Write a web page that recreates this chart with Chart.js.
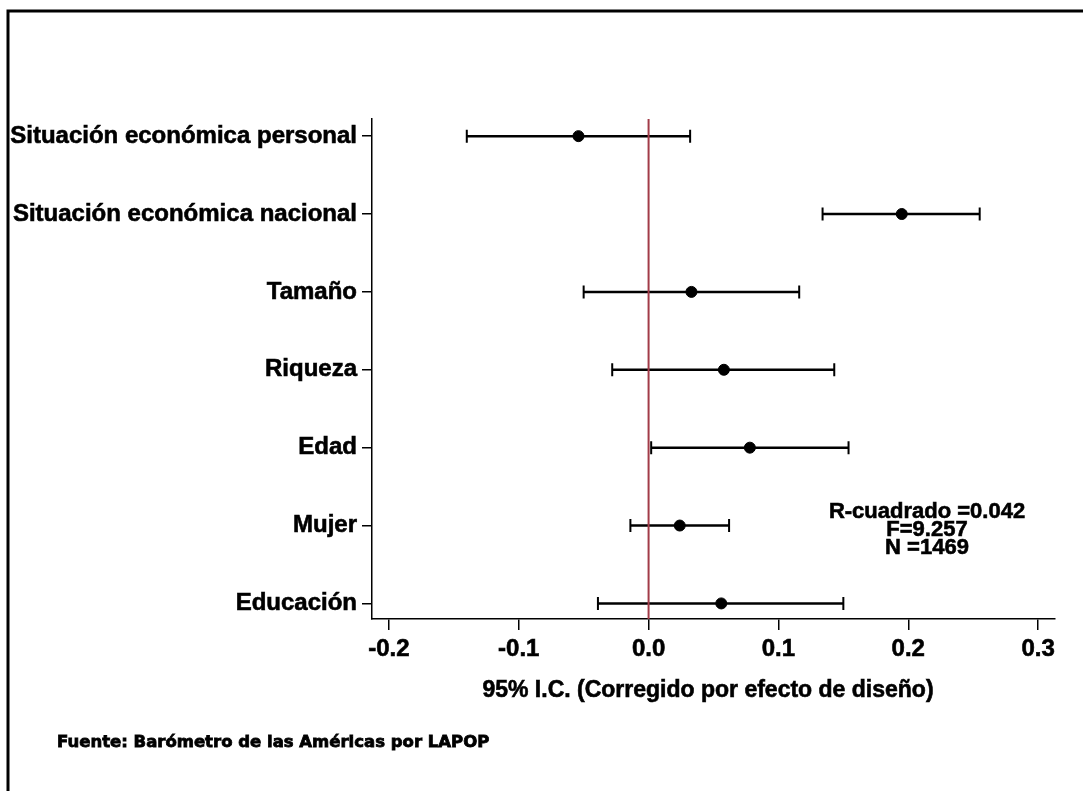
<!DOCTYPE html>
<html>
<head>
<meta charset="utf-8">
<script src="https://cdn.jsdelivr.net/npm/chart.js@4/dist/chart.umd.min.js"></script>
<style>
  html, body { margin: 0; padding: 0; background: #fff; overflow: hidden; }
  #wrap { width: 1083px; height: 791px; }
</style>
</head>
<body>
<div id="wrap"><canvas id="chart" width="1083" height="791"></canvas></div>
<script>
// coefficients with 95% CI, top to bottom
const categories = [
  'Situación económica personal',
  'Situación económica nacional',
  'Tamaño',
  'Riqueza',
  'Edad',
  'Mujer',
  'Educación'
];
const estimates = [-0.054, 0.195, 0.033, 0.058, 0.078, 0.024, 0.056];
const lowerCI   = [-0.140, 0.134, -0.050, -0.028, 0.002, -0.014, -0.039];
const upperCI   = [0.032, 0.255, 0.116, 0.143, 0.154, 0.062, 0.150];
const xTicks = [-0.2, -0.1, 0.0, 0.1, 0.2, 0.3];
const statsLines = ['R-cuadrado =0.042', 'F=9.257', 'N =1469'];
const xTitle = '95% I.C. (Corregido por efecto de diseño)';
const source = 'Fuente: Barómetro de las Américas por LAPOP';

const FONT = '"Liberation Sans", Arial, sans-serif';

// error bars under the points
const errorBars = {
  id: 'errorBars',
  beforeDatasetsDraw(chart) {
    const { ctx, scales: { x, y } } = chart;
    ctx.save();
    ctx.strokeStyle = '#000';
    categories.forEach((c, i) => {
      const py = y.getPixelForValue(i);
      const x1 = x.getPixelForValue(lowerCI[i]);
      const x2 = x.getPixelForValue(upperCI[i]);
      ctx.lineWidth = 2.5;
      ctx.beginPath();
      ctx.moveTo(x1, py);
      ctx.lineTo(x2, py);
      ctx.stroke();
      ctx.lineWidth = 2;
      ctx.beginPath();
      ctx.moveTo(x1, py - 6.5);
      ctx.lineTo(x1, py + 6.5);
      ctx.moveTo(x2, py - 6.5);
      ctx.lineTo(x2, py + 6.5);
      ctx.stroke();
    });
    ctx.restore();
  }
};

// frame, axis title, stats and source note
const extras = {
  id: 'extras',
  afterDraw(chart) {
    const { ctx } = chart;
    ctx.save();
    ctx.strokeStyle = '#000';
    ctx.lineWidth = 3;
    ctx.strokeRect(8, 11, 3000, 3000);

    ctx.fillStyle = '#000';
    ctx.lineWidth = 0.6;
    ctx.textAlign = 'center';
    ctx.textBaseline = 'middle';
    ctx.font = 'bold 23px ' + FONT;
    ctx.fillText(xTitle, 708, 691);
    ctx.strokeText(xTitle, 708, 691);

    ctx.font = 'bold 22px ' + FONT;
    statsLines.forEach((t, i) => {
      ctx.fillText(t, 927, 512 + i * 18);
      ctx.strokeText(t, 927, 512 + i * 18);
    });

    ctx.textAlign = 'left';
    ctx.lineWidth = 0.8;
    ctx.font = 'bold 16.5px "DejaVu Sans", sans-serif';
    ctx.fillText(source, 57, 743);
    ctx.strokeText(source, 57, 743);
    ctx.restore();
  }
};

new Chart(document.getElementById('chart'), {
  type: 'scatter',
  data: {
    datasets: [
      {
        data: estimates.map((v, i) => ({ x: v, y: i })),
        backgroundColor: '#000',
        borderColor: '#000',
        pointRadius: 5.5,
        pointHoverRadius: 5.5,
        order: 2
      },
      {
        type: 'line',
        data: [{ x: 0, y: -0.22 }, { x: 0, y: 6.2 }],
        borderColor: '#a23b48',
        borderWidth: 2,
        pointRadius: 0,
        order: 1
      }
    ]
  },
  options: {
    responsive: false,
    animation: false,
    events: [],
    layout: { padding: { top: 119, right: 28, left: 0, bottom: 0 } },
    plugins: {
      legend: { display: false },
      tooltip: { enabled: false }
    },
    scales: {
      x: {
        type: 'linear',
        min: -0.213,
        max: 0.313,
        afterBuildTicks: s => { s.ticks = xTicks.map(v => ({ value: v })); },
        afterFit: s => { s.height = 172; },
        grid: { drawOnChartArea: false, drawTicks: true, tickLength: 11, color: '#000', lineWidth: 1.5 },
        border: { display: true, color: '#000', width: 1.5 },
        ticks: {
          color: '#000',
          padding: 5,
          textStrokeColor: '#000',
          textStrokeWidth: 0.6,
          font: { family: FONT, size: 24, weight: 'bold' },
          callback: v => v.toFixed(1)
        }
      },
      y: {
        type: 'linear',
        reverse: true,
        min: -0.22,
        max: 6.2,
        afterBuildTicks: s => { s.ticks = categories.map((c, i) => ({ value: i })); },
        afterFit: s => { s.width = 372; },
        grid: { drawOnChartArea: false, drawTicks: true, tickLength: 10, color: '#000', lineWidth: 1.5 },
        border: { display: true, color: '#000', width: 1.5 },
        ticks: {
          color: '#000',
          padding: 5,
          textStrokeColor: '#000',
          textStrokeWidth: 0.6,
          font: { family: FONT, size: 24, weight: 'bold' },
          callback: v => categories[v]
        }
      }
    }
  },
  plugins: [errorBars, extras]
});
</script>
</body>
</html>
